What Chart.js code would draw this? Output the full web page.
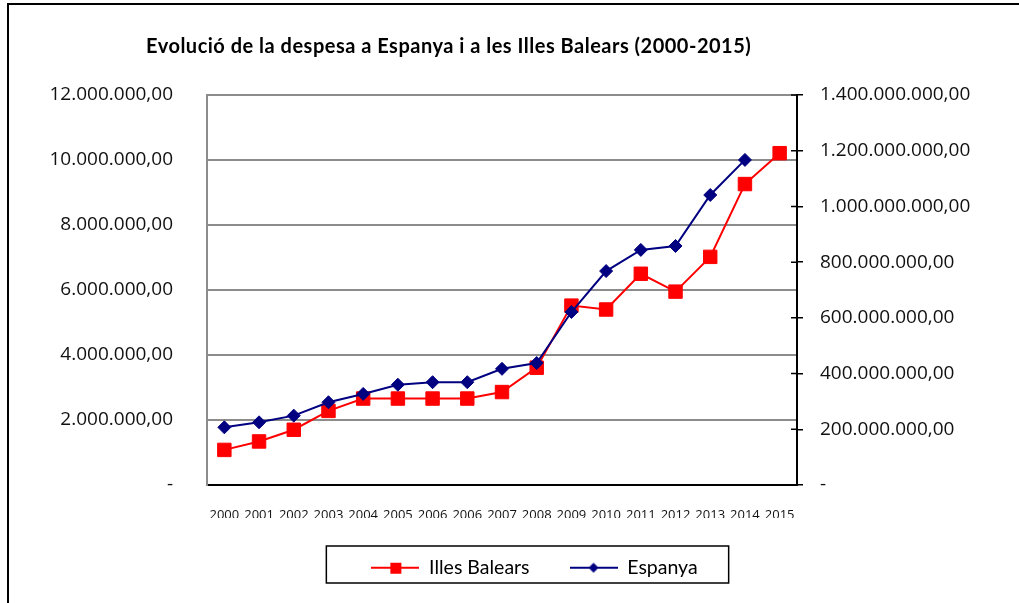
<!DOCTYPE html>
<html lang="ca">
<head>
    <meta charset="UTF-8">
    <title>Evolució de la despesa</title>
    <script src="https://cdn.jsdelivr.net/npm/chart.js"></script>
    <style>
        html, body {
            margin: 0;
            padding: 0;
            background: #fff;
        }
        body {
            width: 1019px;
            height: 603px;
            position: relative;
            overflow: hidden;
        }
        .frame {
            position: absolute;
            left: 7px;
            top: 3px;
            right: -10px;
            bottom: -10px;
            border-top: 2px solid #000;
            border-left: 2px solid #000;
        }
        .chart-title {
            position: absolute;
            left: 146px;
            top: 33px;
            font-family: Lato, sans-serif;
            font-weight: bold;
            font-size: 20px;
            letter-spacing: 0.5px;
            color: #000;
            white-space: nowrap;
        }
        #despesaChart {
            position: absolute;
            left: 0;
            top: 0;
        }
    </style>
</head>
<body>
    <div class="frame"></div>
    <canvas id="despesaChart" width="1019" height="603"></canvas>
    <div class="chart-title">Evolució de la despesa a Espanya i a les Illes Balears (2000-2015)</div>
    <script>
        const years = ['2000', '2001', '2002', '2003', '2004', '2005', '2006', '2006', '2007',
            '2008', '2009', '2010', '2011', '2012', '2013', '2014', '2015'];
        // Illes Balears (left axis)
        const illesBalears = [1080000, 1340000, 1700000, 2280000, 2660000, 2660000, 2660000, 2660000, 2860000,
            3610000, 5520000, 5400000, 6500000, 5950000, 7020000, 9260000, 10210000];
        // Espanya (right axis), no value for 2015
        const espanya = [207000000, 225000000, 249000000, 297000000, 327000000, 360000000, 369000000, 369000000, 417000000,
            438000000, 621000000, 768000000, 844000000, 858000000, 1041000000, 1167000000, null];

        const leftMax = 12000000;
        const leftStep = 2000000;
        const rightMax = 1400000000;
        const rightStep = 200000000;

        function formatNum(v) {
            if (v === 0) return '-';
            const parts = v.toFixed(2).split('.');
            return parts[0].replace(/\B(?=(\d{3})+(?!\d))/g, '.') + ',' + parts[1];
        }

        // line + marker sample for the legend
        function legendMarker(color, shape) {
            const c = document.createElement('canvas');
            c.width = 48;
            c.height = 16;
            const g = c.getContext('2d');
            g.strokeStyle = color;
            g.fillStyle = color;
            g.lineWidth = 2;
            g.beginPath();
            g.moveTo(0, 8);
            g.lineTo(48, 8);
            g.stroke();
            if (shape === 'rect') {
                g.fillRect(19, 3, 11, 11);
            } else {
                g.beginPath();
                g.moveTo(24, 3);
                g.lineTo(29, 8);
                g.lineTo(24, 13);
                g.lineTo(19, 8);
                g.closePath();
                g.fill();
            }
            return c;
        }

        const markers = [legendMarker('#ff0000', 'rect'), legendMarker('#000080', 'diamond')];

        const extras = {
            id: 'extras',
            afterDraw(chart) {
                const ctx = chart.ctx;
                // inner half of the right axis ticks
                const y1 = chart.scales.y1;
                ctx.save();
                ctx.strokeStyle = '#000';
                ctx.lineWidth = 1.5;
                ctx.beginPath();
                y1.ticks.forEach((t, i) => {
                    const y = y1.getPixelForTick(i);
                    ctx.moveTo(y1.left - 6, y);
                    ctx.lineTo(y1.left, y);
                });
                ctx.stroke();
                // legend frame
                const hb = chart.legend.legendHitBoxes;
                if (hb && hb.length) {
                    const first = hb[0];
                    const last = hb[hb.length - 1];
                    const left = first.left - 45;
                    const right = last.left + last.width + 31;
                    ctx.lineWidth = 1.5;
                    ctx.strokeRect(left, first.top - 12, right - left, 37);
                }
                ctx.restore();
            }
        };

        new Chart(document.getElementById('despesaChart'), {
            type: 'line',
            data: {
                labels: years,
                datasets: [{
                    label: 'Illes Balears',
                    data: illesBalears,
                    yAxisID: 'y',
                    borderColor: '#ff0000',
                    backgroundColor: '#ff0000',
                    borderWidth: 2,
                    pointStyle: 'rect',
                    pointRadius: 9.5,
                    pointBorderWidth: 1,
                    tension: 0,
                    order: 1
                }, {
                    label: 'Espanya',
                    data: espanya,
                    yAxisID: 'y1',
                    borderColor: '#000080',
                    backgroundColor: '#000080',
                    borderWidth: 2,
                    pointStyle: 'rectRot',
                    pointRadius: 6.5,
                    pointBorderWidth: 1,
                    tension: 0,
                    order: 0
                }]
            },
            options: {
                responsive: false,
                animation: false,
                devicePixelRatio: 1,
                layout: {
                    padding: { left: 50, right: 0, top: 95, bottom: 15.5 }
                },
                scales: {
                    x: {
                        offset: true,
                        grid: { drawOnChartArea: false, drawTicks: false },
                        border: { color: '#000', width: 2 },
                        ticks: {
                            color: '#111',
                            font: { family: 'Open Sans', size: 13 },
                            padding: 22,
                            maxRotation: 0,
                            autoSkip: false
                        },
                        afterFit(scale) { scale.height = 33; }
                    },
                    y: {
                        position: 'left',
                        min: 0,
                        max: leftMax,
                        grid: { color: '#8c8c8c', lineWidth: 2, drawTicks: false },
                        border: { color: '#8c8c8c', width: 2 },
                        ticks: {
                            stepSize: leftStep,
                            color: '#111',
                            font: { family: 'Open Sans', size: 19 },
                            padding: 34,
                            callback: v => formatNum(v)
                        },
                        afterFit(scale) { scale.width = 157; }
                    },
                    y1: {
                        position: 'right',
                        min: 0,
                        max: rightMax,
                        grid: { drawOnChartArea: false, drawTicks: true, tickLength: 6, color: '#000', lineWidth: 1.5 },
                        border: { color: '#000', width: 2 },
                        ticks: {
                            stepSize: rightStep,
                            color: '#111',
                            font: { family: 'Open Sans', size: 19 },
                            padding: 17,
                            callback: v => formatNum(v)
                        },
                        afterFit(scale) { scale.width = 222; }
                    }
                },
                plugins: {
                    title: { display: false },
                    tooltip: { enabled: false },
                    legend: {
                        position: 'bottom',
                        labels: {
                            usePointStyle: true,
                            pointStyleWidth: 48,
                            padding: 40,
                            color: '#111',
                            font: { family: 'Lato', size: 19.5 },
                            generateLabels: chart => chart.data.datasets.map((ds, i) => ({
                                text: ds.label,
                                pointStyle: markers[i],
                                fillStyle: ds.borderColor,
                                strokeStyle: ds.borderColor,
                                lineWidth: 0,
                                hidden: false,
                                datasetIndex: i
                            }))
                        }
                    }
                }
            },
            plugins: [extras]
        });
    </script>
</body>
</html>
